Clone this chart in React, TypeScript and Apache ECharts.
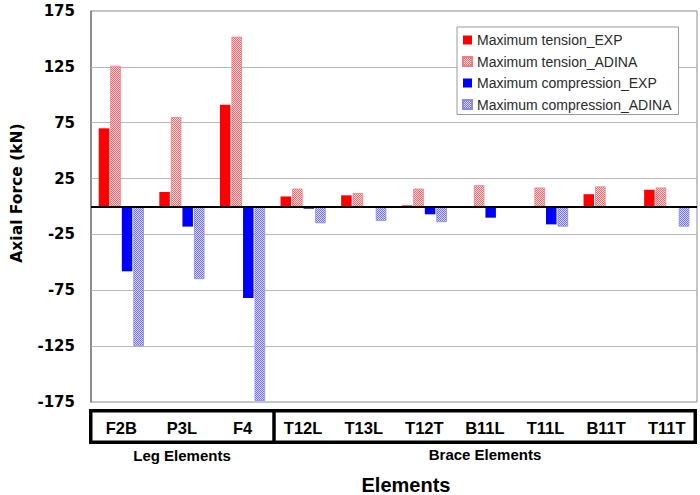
import React, { useEffect, useRef } from "react";
import * as echarts from "echarts";

const categories = ["F2B", "P3L", "F4", "T12L", "T13L", "T12T", "B11L", "T11L", "B11T", "T11T"];
const tensionExp = [70, 13, 91, 9, 10, 1, 0, 0, 11, 15];
const tensionAdina = [126, 80, 152, 16, 12, 16, 19, 17, 18, 17];
const compressionExp = [-58, -18, -82, -2, 0, -7, -10, -16, 0, -1];
const compressionAdina = [-125, -65, -174, -15, -13, -14, -1, -18, -1, -18];
const seriesNames = [
  "Maximum tension_EXP",
  "Maximum tension_ADINA",
  "Maximum compression_EXP",
  "Maximum compression_ADINA",
];
const yMin = -175;
const yMax = 175;
const gridValues = [-125, -75, -25, 25, 75, 125];

function makePattern(c1: string, c2: string) {
  const cv = document.createElement("canvas");
  cv.width = 2;
  cv.height = 2;
  const ctx = cv.getContext("2d")!;
  ctx.fillStyle = c2;
  ctx.fillRect(0, 0, 2, 2);
  ctx.fillStyle = c1;
  ctx.fillRect(0, 0, 1, 1);
  ctx.fillRect(1, 1, 1, 1);
  return { image: cv, repeat: "repeat" } as any;
}

export default function App() {
  const ref = useRef<HTMLDivElement>(null);
  useEffect(() => {
    const chart = echarts.init(ref.current!, null, { renderer: "svg" });
    const boldFont = "DejaVu Sans";
    const arial = "Liberation Sans";
    const pinkPat = makePattern("#f06a6a", "#fcdede");
    const bluePat = makePattern("#7070f2", "#dcdcfc");
    const barBase = { type: "bar", barWidth: 10.5, barGap: "10%", z: 2 };
    chart.setOption({
      animation: false,
      backgroundColor: "#ffffff",
      grid: {
        left: 91,
        top: 11,
        right: 3,
        bottom: 93,
        show: true,
        borderColor: "#8c8c8c",
        borderWidth: 1,
      },
      legend: {
        orient: "vertical",
        left: 457,
        top: 27,
        backgroundColor: "#ffffff",
        borderColor: "#9a9a9a",
        borderWidth: 1,
        padding: [6, 7, 3, 5],
        itemWidth: 9,
        itemHeight: 9,
        itemGap: 7.5,
        icon: "rect",
        textStyle: { fontFamily: arial, fontSize: 14, color: "#2a2a2a", lineHeight: 14 },
        data: seriesNames,
      },
      xAxis: {
        type: "category",
        data: categories,
        position: "bottom",
        axisLine: { show: false, onZero: false },
        axisTick: { show: false },
        splitLine: { show: false },
        axisLabel: {
          interval: 0,
          margin: 17,
          fontFamily: arial,
          fontWeight: "bold",
          fontSize: 16.5,
          color: "#000",
        },
      },
      yAxis: {
        type: "value",
        min: yMin,
        max: yMax,
        interval: 25,
        splitLine: { show: false },
        axisTick: { show: false },
        axisLine: { show: true, lineStyle: { color: "#7a7a7a", width: 1.5 } },
        axisLabel: {
          margin: 16,
          fontFamily: boldFont,
          fontWeight: "bold",
          fontSize: 15,
          color: "#000",
          formatter: (v: number) => ((v - yMin) % 50 === 0 ? String(v) : ""),
        },
      },
      series: [
        {
          ...barBase,
          name: seriesNames[0],
          data: tensionExp,
          itemStyle: { color: "#ff0000" },
          markLine: {
            silent: true,
            z: 1,
            symbol: "none",
            label: { show: false },
            lineStyle: { color: "#b9b9b9", width: 1, type: "solid" },
            data: gridValues.map((v) => ({ yAxis: v })),
          },
        },
        {
          ...barBase,
          name: seriesNames[1],
          data: tensionAdina,
          itemStyle: { color: pinkPat, borderColor: "#f07c84", borderWidth: 0.8 },
        },
        {
          ...barBase,
          name: seriesNames[2],
          data: compressionExp,
          itemStyle: { color: "#0000ff" },
          markLine: {
            silent: true,
            z: 5,
            symbol: "none",
            label: { show: false },
            lineStyle: { color: "#000000", width: 1.8, type: "solid" },
            data: [{ yAxis: 0 }],
          },
        },
        {
          ...barBase,
          name: seriesNames[3],
          data: compressionAdina,
          itemStyle: { color: bluePat, borderColor: "#8a8af0", borderWidth: 0.8 },
        },
      ],
      graphic: [
        {
          type: "rect",
          shape: { x: 90.75, y: 410.75, width: 604.5, height: 31.5 },
          style: { fill: "none", stroke: "#000", lineWidth: 3.5 },
        },
        {
          type: "line",
          shape: { x1: 274, y1: 409, x2: 274, y2: 444 },
          style: { stroke: "#000", lineWidth: 3.5 },
        },
        {
          type: "text",
          x: 182,
          y: 455,
          style: {
            text: "Leg Elements",
            fontFamily: arial,
            fontWeight: "bold",
            fontSize: 15,
            fill: "#000",
            align: "center",
            verticalAlign: "middle",
          },
        },
        {
          type: "text",
          x: 485,
          y: 454,
          style: {
            text: "Brace Elements",
            fontFamily: arial,
            fontWeight: "bold",
            fontSize: 15,
            fill: "#000",
            align: "center",
            verticalAlign: "middle",
          },
        },
        {
          type: "text",
          x: 406,
          y: 485,
          style: {
            text: "Elements",
            fontFamily: arial,
            fontWeight: "bold",
            fontSize: 20,
            fill: "#000",
            align: "center",
            verticalAlign: "middle",
          },
        },
        {
          type: "text",
          x: 17,
          y: 193,
          rotation: Math.PI / 2,
          style: {
            text: "Axial Force (kN)",
            fontFamily: boldFont,
            fontWeight: "bold",
            fontSize: 15.5,
            fill: "#000",
            align: "center",
            verticalAlign: "middle",
          },
        },
      ],
    });
    return () => chart.dispose();
  }, []);
  return (
    <div
      ref={ref}
      style={{ position: "absolute", left: 0, top: 0, width: 700, height: 495 }}
    />
  );
}
